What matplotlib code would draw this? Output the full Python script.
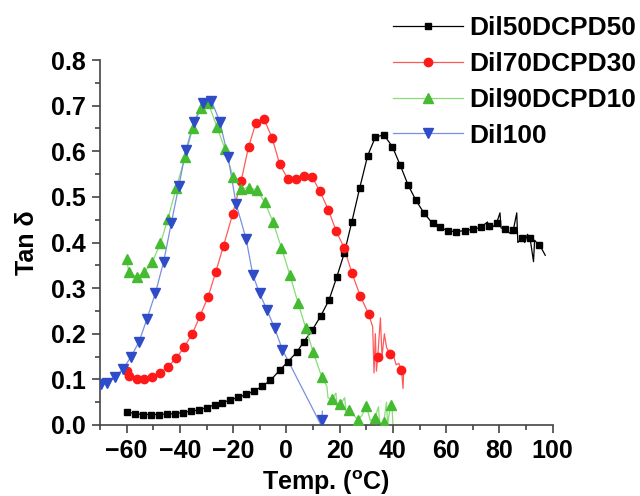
import numpy as np
import matplotlib
matplotlib.use("Agg")
import matplotlib.pyplot as plt
from matplotlib.ticker import MultipleLocator

plt.rcParams['font.family'] = ['Liberation Sans', 'DejaVu Sans']
plt.rcParams['font.weight'] = 'bold'
plt.rcParams['mathtext.fontset'] = 'custom'
plt.rcParams['mathtext.rm'] = 'Liberation Sans:bold'
plt.rcParams['mathtext.it'] = 'Liberation Sans:bold'
plt.rcParams['mathtext.bf'] = 'Liberation Sans:bold'

labels = ['Dil50DCPD50', 'Dil70DCPD30', 'Dil90DCPD10', 'Dil100']

# Dil50DCPD50 (markers)
x50 = [-60, -57, -54, -51, -48, -45, -42, -39, -36, -33, -30, -27, -24, -21, -18, -15, -12, -9, -6, -2.5,
       0.6, 3.8, 6.6, 9.7, 12.9, 16, 18.9, 21.7, 24.6, 27.5, 30.5, 33.4, 36.6, 39.8, 42.7, 45.7, 48.6,
       51.7, 54.9, 57.8, 60.8, 63.8, 66.9, 70.1, 73, 76, 78.9, 82, 85.2, 88.4, 91.5, 94.7]
y50 = [0.029, 0.025, 0.023, 0.023, 0.023, 0.024, 0.025, 0.027, 0.030, 0.033, 0.038, 0.044, 0.049, 0.055,
       0.061, 0.067, 0.075, 0.085, 0.098, 0.120, 0.139, 0.159, 0.183, 0.208, 0.239, 0.274, 0.324, 0.376,
       0.446, 0.519, 0.590, 0.631, 0.636, 0.610, 0.570, 0.526, 0.493, 0.464, 0.442, 0.433, 0.425, 0.424,
       0.426, 0.429, 0.433, 0.436, 0.442, 0.429, 0.427, 0.409, 0.409, 0.395]
# Dil50DCPD50 noisy line-only points
x50n = [75.5, 76.3, 80.2, 80.6, 84.0, 86.5, 86.9, 89.5, 90.5, 92.8, 93.2, 96.0, 97.2]
y50n = [0.445, 0.428, 0.465, 0.432, 0.420, 0.465, 0.400, 0.400, 0.418, 0.358, 0.405, 0.385, 0.372]

# Dil70DCPD30
x70 = [-60, -59, -56.2, -53.3, -50.3, -47.3, -44.5, -41.4, -38.5, -35.4, -32.5, -29.4, -26.5, -23.6,
       -20.2, -17, -14.2, -11.4, -8.4, -5.4, -2.5, 0.6, 3.5, 6.6, 9.7, 12.6, 15.8, 18.7, 21.7, 24.6,
       27.8, 30.9, 34.3, 38.9, 43.2]
y70 = [0.118, 0.108, 0.101, 0.101, 0.105, 0.115, 0.128, 0.146, 0.170, 0.199, 0.238, 0.281, 0.336, 0.393,
       0.462, 0.535, 0.610, 0.663, 0.670, 0.630, 0.571, 0.539, 0.539, 0.546, 0.543, 0.512, 0.471, 0.425,
       0.388, 0.333, 0.282, 0.243, 0.150, 0.156, 0.121]
x70n = [32.4, 32.9, 33.4, 33.8, 35.3, 35.9, 36.8, 37.6, 40.3, 41.2, 42.2, 43.8, 44.0]
y70n = [0.215, 0.114, 0.200, 0.118, 0.235, 0.150, 0.200, 0.170, 0.150, 0.132, 0.135, 0.080, 0.110]

# Dil90DCPD10
x90 = [-60, -59.2, -56.2, -53.3, -50.3, -47.3, -44.5, -41.4, -38.1, -35.1, -32.2, -29.3, -26.1, -23.1,
       -20, -17, -14.2, -11.1, -8.1, -5.1, -1.9, 1.3, 4.4, 7.3, 10.1, 13.3, 17, 20.2, 23.6, 26.7, 30,
       33.1, 36.6, 39.1]
y90 = [0.364, 0.336, 0.324, 0.335, 0.358, 0.398, 0.452, 0.519, 0.587, 0.652, 0.694, 0.705, 0.654, 0.605,
       0.543, 0.518, 0.520, 0.515, 0.488, 0.446, 0.389, 0.329, 0.267, 0.212, 0.159, 0.105, 0.056, 0.045,
       0.033, 0.012, 0.042, 0.015, 0.007, 0.044]
x90n = [15.2, 15.6, 18.6, 19.0, 21.9, 22.3, 28.3, 31.5, 34.6, 35.0, 37.6, 38.0, 39.6, 40.0]
y90n = [0.085, 0.060, 0.070, 0.040, 0.060, 0.030, 0.020, 0.010, 0.040, 0.000, 0.050, 0.000, 0.050, 0.000]

# Dil100
x100 = [-69.7, -67.2, -64.4, -61.3, -58.3, -55.3, -52.4, -49.2, -46.1, -43.2, -40.4, -37.7, -34.7,
        -31.3, -28.2, -25, -21.9, -18.9, -15.1, -12.6, -10.1, -7.3, -4.4, -1.5, 13.3]
y100 = [0.089, 0.091, 0.105, 0.123, 0.150, 0.183, 0.232, 0.289, 0.358, 0.443, 0.524, 0.603, 0.665,
        0.705, 0.711, 0.665, 0.587, 0.485, 0.407, 0.329, 0.289, 0.252, 0.212, 0.165, 0.012]
x100n = [13.0, 13.5]
y100n = [0.0, 0.03]

series = [
    (x50, y50, x50n, y50n, '#000000', '#000000', 's', 5.0),
    (x70, y70, x70n, y70n, '#ff1a1a', '#ff5a5a', 'o', 6.0),
    (x90, y90, x90n, y90n, '#44bb30', '#88dd77', '^', 6.5),
    (x100, y100, x100n, y100n, '#2f4cc8', '#7b8fe0', 'v', 6.5),
]

fig = plt.figure(figsize=(6.4, 4.96), dpi=100)
ax = fig.add_axes([100 / 640, 71 / 496, 452.7 / 640, 365 / 496])

handles = []
for (xm, ym, xn, yn, mc, lc, mk, ms), lab in zip(series, labels):
    xa = np.concatenate([np.asarray(xm, float), np.asarray(xn, float)])
    ya = np.concatenate([np.asarray(ym, float), np.asarray(yn, float)])
    order = np.argsort(xa, kind='stable')
    ax.plot(xa[order], ya[order], '-', color=lc, lw=0.9, zorder=2)
    ax.plot(xm, ym, linestyle='none', marker=mk, ms=ms, color=mc, mec=mc, zorder=3)
    h, = ax.plot([], [], '-', color=lc, lw=0.9, marker=mk, ms=ms, mfc=mc, mec=mc)
    handles.append(h)

ax.set_xlim(-70, 100)
ax.set_ylim(0, 0.8)
ax.xaxis.set_major_locator(MultipleLocator(20))
ax.xaxis.set_minor_locator(MultipleLocator(10))
ax.yaxis.set_major_locator(MultipleLocator(0.1))
ax.yaxis.set_minor_locator(MultipleLocator(0.05))
ax.yaxis.set_major_formatter(matplotlib.ticker.FormatStrFormatter('%.1f'))

for s in ['top', 'right']:
    ax.spines[s].set_visible(False)
for s in ['left', 'bottom']:
    ax.spines[s].set_color('#444444')
    ax.spines[s].set_linewidth(1.2)
ax.tick_params(which='major', direction='out', length=6, width=1.2, color='#444444',
               labelsize=18, pad=4)
ax.tick_params(which='minor', direction='out', length=3.5, width=1.2, color='#444444')
for t in ax.get_xticklabels() + ax.get_yticklabels():
    t.set_fontweight('bold')

ax.set_xlabel(r'Temp. ($^{\mathrm{o}}$C)', fontsize=18, fontweight='bold', labelpad=4)
ax.set_ylabel('Tan δ', fontsize=18, fontweight='bold', labelpad=9)

fig.legend(handles, labels, loc='upper left', bbox_to_anchor=(393 / 640, 1 - 16 / 496),
           frameon=False, prop={'weight': 'bold', 'size': 19},
           handlelength=2.65, handletextpad=0.25, labelspacing=0.45, borderpad=0,
           borderaxespad=0)

fig.savefig('out.png', dpi=100)
